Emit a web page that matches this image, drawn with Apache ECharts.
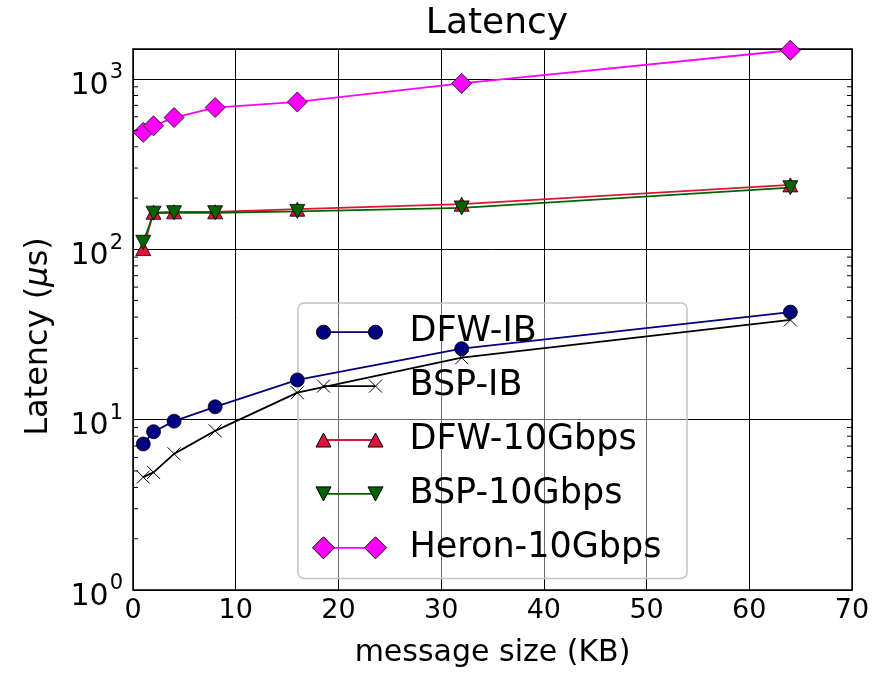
<!DOCTYPE html>
<html>
<head>
<meta charset="utf-8">
<script src="https://cdn.jsdelivr.net/npm/echarts@6/dist/echarts.min.js"></script>
<style>
  html, body { margin: 0; padding: 0; background: #fff; }
  #chart { width: 892px; height: 673px; }
</style>
</head>
<body>
<div id="chart"></div>
<script>
// Message sizes in KB
const messageSizes = [1, 2, 4, 8, 16, 32, 64];

// Latency in microseconds per transport
const dfwIB      = [7.2, 8.5, 9.8, 11.9, 17.1, 26.1, 42.8];
const bspIB      = [4.6, 4.9, 6.3, 8.6, 14.4, 23.1, 38.5];
const dfw10Gbps  = [101, 165, 166, 166, 172, 184, 239];
const bsp10Gbps  = [110, 163, 164, 164, 167, 175, 230];
const heron10Gbps = [486, 531, 594, 680, 733, 942, 1475];

const seriesNames = ['DFW-IB', 'BSP-IB', 'DFW-10Gbps', 'BSP-10Gbps', 'Heron-10Gbps'];

// Log-axis minor tick positions (2..9 per decade)
const minorTickValues = [2, 3, 4, 5, 6, 7, 8, 9,
                         20, 30, 40, 50, 60, 70, 80, 90,
                         200, 300, 400, 500, 600, 700, 800, 900];

const FONT = 'DejaVu Sans';

function pairs(ys) { return messageSizes.map((x, i) => [x, ys[i]]); }

// Legend handles: two markers joined by a line; a leading "M0 0 M92 24"
// pins every icon to the same 92x24 box so markers keep their true size.
const BOX = 'M0 0 M92 24 ';
const handleLine = BOX + 'M11 11.1 L63 11.1 L63 12.9 L11 12.9 Z';
const handleMarkers = {
  'DFW-IB': BOX + 'M4 12 A7 7 0 1 1 18 12 A7 7 0 1 1 4 12 Z M56 12 A7 7 0 1 1 70 12 A7 7 0 1 1 56 12 Z',
  'BSP-IB': BOX + 'M4.5 5.5 L17.5 18.5 M17.5 5.5 L4.5 18.5 M56.5 5.5 L69.5 18.5 M69.5 5.5 L56.5 18.5',
  'DFW-10Gbps': BOX + 'M3.5 19 L11 5 L18.5 19 Z M55.5 19 L63 5 L70.5 19 Z',
  'BSP-10Gbps': BOX + 'M3.5 5 L11 19 L18.5 5 Z M55.5 5 L63 19 L70.5 5 Z',
  'Heron-10Gbps': BOX + 'M0 12 L11 1 L22 12 L11 23 Z M52 12 L63 1 L74 12 L63 23 Z'
};
const seriesColors = {
  'DFW-IB': '#000080',
  'BSP-IB': '#000000',
  'DFW-10Gbps': '#dc143c',
  'BSP-10Gbps': '#006400',
  'Heron-10Gbps': '#ff00ff'
};

const legendBase = {
  orient: 'vertical',
  left: 298,
  top: 303,
  itemWidth: 92,
  itemHeight: 24,
  itemGap: 18.9,
  padding: [11.7, 26, 13.1, 14],
  selectedMode: false
};

const legendLines = Object.assign({}, legendBase, {
  z: 3,
  backgroundColor: 'rgba(255,255,255,0.42)',
  borderColor: '#c4c4c4',
  borderWidth: 1.5,
  borderRadius: 6,
  textStyle: { fontSize: 35, fontFamily: FONT, color: 'rgba(0,0,0,0)', lineHeight: 24 },
  data: seriesNames.map(n => ({
    name: n, icon: 'path://' + handleLine,
    itemStyle: { color: seriesColors[n], borderWidth: 0 }
  }))
});

const legendMarkers = Object.assign({}, legendBase, {
  z: 4,
  textStyle: { fontSize: 35, fontFamily: FONT, color: '#000', lineHeight: 24 },
  data: seriesNames.map(n => ({
    name: n, icon: 'path://' + handleMarkers[n],
    itemStyle: { color: seriesColors[n], borderColor: '#000', borderWidth: 1 }
  }))
});

function lineSeries(name, ys, symbol, size, extra) {
  return Object.assign({
    name: name,
    type: 'line',
    data: pairs(ys),
    symbol: symbol,
    symbolSize: size,
    showAllSymbol: true,
    color: seriesColors[name],
    lineStyle: { color: seriesColors[name], width: 1.8 },
    itemStyle: { color: seriesColors[name], borderColor: '#000', borderWidth: 0.8 },
    emphasis: { disabled: true },
    animation: false
  }, extra || {});
}

const axisLineStyle = { color: '#000', width: 1.5 };

const option = {
  backgroundColor: '#fff',
  animation: false,
  title: {
    text: 'Latency',
    left: 492,
    textAlign: 'center',
    top: 1,
    textStyle: { fontSize: 36, fontWeight: 'normal', fontFamily: FONT, color: '#000' }
  },
  legend: [legendLines, legendMarkers],
  grid: { left: 133, right: 40, top: 49, bottom: 79, containLabel: false },
  xAxis: [{
    type: 'value', min: 0, max: 70, interval: 10, position: 'bottom',
    name: 'message size (KB)', nameLocation: 'middle', nameGap: 48,
    nameTextStyle: { fontSize: 30, fontFamily: FONT, color: '#000' },
    axisLine: { show: true, onZero: false, lineStyle: axisLineStyle },
    axisTick: { show: true, inside: true, length: 8, lineStyle: { color: '#000' } },
    axisLabel: { fontSize: 27, fontFamily: FONT, color: '#000', margin: 7 },
    splitLine: { show: true, lineStyle: { color: '#000', width: 1 } }
  }, {
    type: 'value', min: 0, max: 70, interval: 10, position: 'top',
    axisLine: { show: true, onZero: false, lineStyle: axisLineStyle },
    axisTick: { show: true, inside: true, length: 8, lineStyle: { color: '#000' } },
    axisLabel: { show: false },
    splitLine: { show: false }
  }],
  yAxis: [{
    type: 'log', logBase: 10, min: 1, max: 1500, position: 'left',
    name: 'Latency ({mu|μ}s)', nameLocation: 'middle', nameGap: 78,
    nameTextStyle: {
      fontSize: 32, fontFamily: FONT, color: '#000', padding: [0, 34, 0, 0],
      rich: { mu: { fontSize: 32, fontFamily: FONT, fontStyle: 'italic', color: '#000' } }
    },
    axisLine: { show: true, onZero: false, lineStyle: axisLineStyle },
    axisTick: { show: true, inside: true, length: 8, lineStyle: { color: '#000' } },
    axisLabel: {
      showMaxLabel: false,
      margin: 10,
      formatter: v => '{b|10}{e|' + Math.round(Math.log10(v)) + '}',
      rich: {
        b: { fontSize: 30, fontFamily: FONT, color: '#000', padding: [14, 0, 0, 0] },
        e: { fontSize: 21, fontFamily: FONT, color: '#000', padding: [0, 0, 12, 1] }
      }
    },
    splitLine: { show: true, lineStyle: { color: '#000', width: 1 } }
  }, {
    type: 'log', logBase: 10, min: 1, max: 1500, position: 'right',
    axisLine: { show: true, onZero: false, lineStyle: axisLineStyle },
    axisTick: { show: true, inside: true, length: 8, lineStyle: { color: '#000' } },
    axisLabel: { show: false },
    splitLine: { show: false }
  }],
  series: [
    {
      name: 'minor ticks',
      type: 'custom',
      silent: true,
      z: 5,
      data: minorTickValues.map(v => [0, v]),
      renderItem: function (params, api) {
        const cs = params.coordSys;
        const y = api.coord([0, api.value(1)])[1];
        const st = { stroke: '#000', lineWidth: 1 };
        return {
          type: 'group',
          children: [
            { type: 'line', shape: { x1: cs.x, y1: y, x2: cs.x + 5, y2: y }, style: st },
            { type: 'line', shape: { x1: cs.x + cs.width, y1: y, x2: cs.x + cs.width - 5, y2: y }, style: st }
          ]
        };
      }
    },
    lineSeries('DFW-IB', dfwIB, 'circle', 14),
    lineSeries('BSP-IB', bspIB, 'path://M0 0 L10 10 M10 0 L0 10', 13, {
      itemStyle: { color: '#000', borderColor: '#000', borderWidth: 1 }
    }),
    lineSeries('DFW-10Gbps', dfw10Gbps, 'triangle', [15, 14]),
    lineSeries('BSP-10Gbps', bsp10Gbps, 'triangle', [15, 14], { symbolRotate: 180 }),
    lineSeries('Heron-10Gbps', heron10Gbps, 'diamond', [20, 20])
  ]
};

const chart = echarts.init(document.getElementById('chart'), null, { renderer: 'canvas' });
chart.setOption(option);
</script>
</body>
</html>
